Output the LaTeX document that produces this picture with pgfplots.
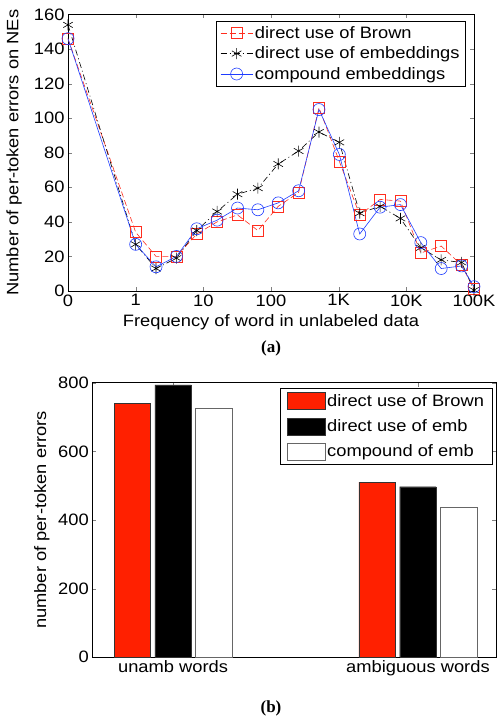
\documentclass[border=0pt]{standalone}
\usepackage{pgfplots}
\pgfplotsset{compat=1.18}
\usepackage{fontspec}
\setmainfont[FakeStretch=1.11]{Liberation Sans}
\newfontfamily\capfont{Liberation Serif}

\definecolor{mred}{RGB}{255,45,30}
\definecolor{mblue}{RGB}{30,60,255}
\definecolor{barred}{RGB}{255,32,0}

\begin{document}
\begin{tikzpicture}
\useasboundingbox (0,0) rectangle (497pt,717pt);
\pgfplotsset{
  every axis/.append style={
    font=\fontsize{16.5}{19}\selectfont,
    scale only axis,
    /pgf/number format/assume math mode=true,
    axis line style={line width=0.6pt},
    major tick length=4pt,
  },
}

% (a) errors against word frequency
\begin{axis}[
  at={(68pt,426pt)}, anchor=south west,
  width=406pt, height=276.5pt,
  xmin=0, xmax=6, ymin=0, ymax=160,
  xtick={0,1,2,3,4,5,6},
  xticklabels={0,1,10,100,1K,10K,100K},
  ytick={0,20,...,160},
  clip=false,
  xlabel={Frequency of word in unlabeled data},
  ylabel={Number of per-token errors on NEs},
  xlabel style={at={(axis description cs:0.5,-0.112)}, anchor=center},
  ylabel style={at={(axis description cs:-0.133,0.5)}, anchor=center},
  legend style={at={(0.98,0.978)}, anchor=north east, draw=black,
    line width=0.6pt, inner xsep=4pt, inner ysep=3.5pt, row sep=3pt},
  legend cell align=left,
  legend image code/.code={\draw[mark repeat=2,mark phase=2,#1]
    plot coordinates {(0pt,0pt) (16pt,0pt) (32pt,0pt)};},
]
% x position: 0 for "0", 1+log10(f) otherwise (f = 1, 2, 4, ..., 65536, 100K)
\addplot[mred, line width=0.6pt, dash pattern=on 6pt off 3pt,
  mark=square, mark size=5.5pt, mark options={solid}] coordinates {
  (0,146) (1,34) (1.301,20) (1.602,20) (1.903,33) (2.204,40) (2.505,44)
  (2.806,35) (3.107,49) (3.408,57) (3.709,106) (4.010,75) (4.311,44)
  (4.612,53) (4.913,52) (5.214,22) (5.515,26) (5.816,15) (6,1)};
\addlegendentry{direct use of Brown}
\addplot[black, line width=0.6pt, dash pattern=on 6pt off 3pt on 1pt off 3pt,
  mark=asterisk, mark size=5.5pt, mark options={solid}] coordinates {
  (0,154) (1,27) (1.301,13) (1.602,19) (1.903,35) (2.204,46) (2.505,56)
  (2.806,59.5) (3.107,73.5) (3.408,81) (3.709,92) (4.010,86) (4.311,45)
  (4.612,49) (4.913,42) (5.214,25) (5.515,18) (5.816,16.5) (6,0.5)};
\addlegendentry{direct use of embeddings}
\addplot[mblue, line width=0.6pt, mark=o, mark size=6pt] coordinates {
  (0,146) (1,27) (1.301,14) (1.602,20) (1.903,36) (2.204,41) (2.505,48)
  (2.806,47) (3.107,51) (3.408,58) (3.709,105) (4.010,79) (4.311,33)
  (4.612,48.5) (4.913,50) (5.214,28) (5.515,13) (5.816,14.5) (6,2.5)};
\addlegendentry{compound embeddings}
\end{axis}

\node[font=\capfont\bfseries\fontsize{17}{19}\selectfont] at (271pt,369pt) {(a)};

% (b) errors on unambiguous / ambiguous words
\begin{axis}[
  at={(92.3pt,59.7pt)}, anchor=south west,
  width=404pt, height=274.6pt,
  xmin=0.67, xmax=2.32, ymin=0, ymax=800,
  xtick={1,2},
  xticklabels={unamb words\hspace{24pt}, ambiguous words},
  ytick={0,200,...,800},
  ylabel={number of per-token errors},
  ylabel style={at={(axis description cs:-0.125,0.5)}, anchor=center},
  legend style={at={(0.99,0.98)}, anchor=north east, draw=black,
    line width=0.6pt, inner xsep=6pt, inner ysep=4pt, row sep=7.5pt},
  legend cell align=left,
  legend image code/.code={\draw[#1] (0pt,-8.5pt) rectangle (38pt,8.5pt);},
]
\addplot[ybar, bar width=0.149, bar shift=-0.1667, fill=barred, draw=black!80]
  coordinates {(1,740) (2,510)};
\addlegendentry{direct use of Brown}
\addplot[ybar, bar width=0.149, bar shift=0, fill=black, draw=black!80]
  coordinates {(1,794) (2,497)};
\addlegendentry{direct use of emb}
\addplot[ybar, bar width=0.149, bar shift=0.1667, fill=white, draw=black!60]
  coordinates {(1,726) (2,436)};
\addlegendentry{compound of emb}
\end{axis}

\node[font=\capfont\bfseries\fontsize{17}{19}\selectfont] at (271pt,9pt) {(b)};
\end{tikzpicture}
\end{document}
